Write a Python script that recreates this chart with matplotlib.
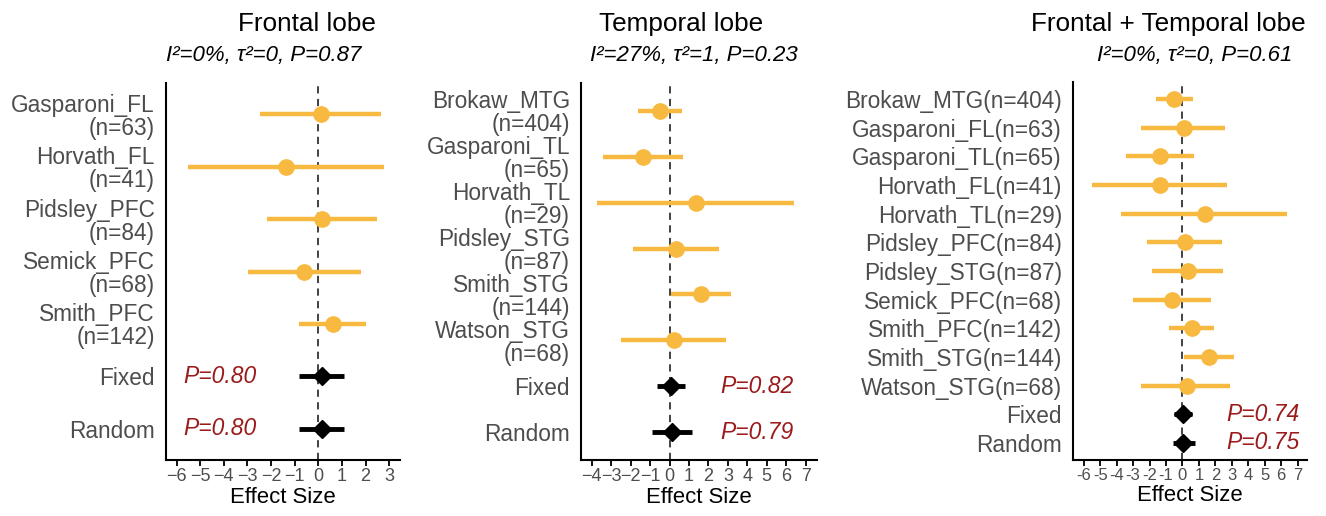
import numpy as np
import matplotlib
matplotlib.use("Agg")
import matplotlib.pyplot as plt

plt.rcParams["font.family"] = ["Liberation Sans", "DejaVu Sans"]

# Frontal lobe studies
fl_labels = ["Gasparoni_FL\n(n=63)", "Horvath_FL\n(n=41)", "Pidsley_PFC\n(n=84)",
             "Semick_PFC\n(n=68)", "Smith_PFC\n(n=142)"]
fl_est = [0.10, -1.37, 0.17, -0.59, 0.62]
fl_lo = [-2.48, -5.53, -2.17, -2.99, -0.82]
fl_hi = [2.67, 2.80, 2.49, 1.80, 2.01]
fl_pool_est = [0.14, 0.14]
fl_pool_lo = [-0.82, -0.82]
fl_pool_hi = [1.10, 1.10]
fl_pool_p = ["P=0.80", "P=0.80"]

# Temporal lobe studies
tl_labels = ["Brokaw_MTG\n(n=404)", "Gasparoni_TL\n(n=65)", "Horvath_TL\n(n=29)",
             "Pidsley_STG\n(n=87)", "Smith_STG\n(n=144)", "Watson_STG\n(n=68)"]
tl_est = [-0.48, -1.34, 1.34, 0.34, 1.61, 0.24]
tl_lo = [-1.60, -3.40, -3.71, -1.86, 0.08, -2.48]
tl_hi = [0.66, 0.70, 6.38, 2.52, 3.16, 2.91]
tl_pool_est = [0.07, 0.12]
tl_pool_lo = [-0.65, -0.88]
tl_pool_hi = [0.80, 1.15]
tl_pool_p = ["P=0.82", "P=0.79"]

# Both lobes combined
all_labels = ["Brokaw_MTG(n=404)", "Gasparoni_FL(n=63)", "Gasparoni_TL(n=65)",
              "Horvath_FL(n=41)", "Horvath_TL(n=29)", "Pidsley_PFC(n=84)",
              "Pidsley_STG(n=87)", "Semick_PFC(n=68)", "Smith_PFC(n=142)",
              "Smith_STG(n=144)", "Watson_STG(n=68)"]
all_est = [-0.52, 0.09, -1.37, -1.37, 1.35, 0.15, 0.34, -0.62, 0.60, 1.61, 0.26]
all_lo = [-1.61, -2.53, -3.40, -5.50, -3.73, -2.18, -1.84, -3.02, -0.82, 0.09, -2.49]
all_hi = [0.62, 2.61, 0.68, 2.73, 6.37, 2.43, 2.49, 1.72, 1.94, 3.14, 2.89]
all_pool_est = [0.05, 0.06]
all_pool_lo = [-0.50, -0.60]
all_pool_hi = [0.58, 0.74]
all_pool_p = ["P=0.74", "P=0.75"]

pool_labels = ["Fixed", "Random"]
titles = ["Frontal lobe", "Temporal lobe", "Frontal + Temporal lobe"]
subtitles = ["I²=0%, τ²=0, P=0.87", "I²=27%, τ²=1, P=0.23", "I²=0%, τ²=0, P=0.61"]
xticks = [np.arange(-6, 4), np.arange(-4, 8), np.arange(-6, 8)]
xlims = [(-6.45, 3.46), (-4.55, 7.58), (-6.65, 7.57)]
p_text_x = [-5.73, 2.6, 2.65]

panels = [
    (fl_labels, fl_est, fl_lo, fl_hi, fl_pool_est, fl_pool_lo, fl_pool_hi, fl_pool_p),
    (tl_labels, tl_est, tl_lo, tl_hi, tl_pool_est, tl_pool_lo, tl_pool_hi, tl_pool_p),
    (all_labels, all_est, all_lo, all_hi, all_pool_est, all_pool_lo, all_pool_hi, all_pool_p),
]

W, H = 1326, 516
fig = plt.figure(figsize=(W / 100, H / 100), dpi=100)

# axes boxes in pixels: left, right, top, bottom
boxes = [(166, 400, 83, 460), (581, 817, 83, 460), (1073, 1307, 82, 460)]
title_pos = [(307, 24), (681, 24), (1168, 24)]
sub_pos = [(264, 55), (694, 55), (1195, 55)]
# the combined panel has tight tick spacing, so its labels get a short dash
tick_size = [13, 13, 12]
minus_char = ["\u2212", "\u2212", "-"]

orange = "#F7B940"
grey_txt = "#4D4D4D"

for k, (labels, est, lo, hi, pest, plo, phi, pp) in enumerate(panels):
    l, r, t, b = boxes[k]
    ax = fig.add_axes([l / W, 1 - b / H, (r - l) / W, (b - t) / H])
    n = len(labels) + 2
    ys = np.arange(n)[::-1]
    ys_study = ys[:len(labels)]
    ys_pool = ys[len(labels):]

    ax.axvline(0, color="#333333", lw=1.3, ls=(0, (4, 3)), zorder=1)
    ax.hlines(ys_study, lo, hi, color=orange, lw=3.2, zorder=2)
    ax.plot(est, ys_study, "o", color=orange, ms=11, zorder=3)
    ax.hlines(ys_pool, plo, phi, color="black", lw=3.5, zorder=2)
    ax.plot(pest, ys_pool, "D", color="black", ms=9.5, zorder=3)

    for y, txt in zip(ys_pool, pp):
        ax.text(p_text_x[k], y, txt, color="#9B1B1B", fontsize=16.5,
                style="italic", va="center", ha="left")

    ax.set_yticks(ys)
    ax.set_yticklabels(labels + pool_labels, fontsize=16.3, color=grey_txt,
                       linespacing=1.0)
    ax.tick_params(axis="y", length=0, pad=8)
    ax.set_xticks(xticks[k])
    ax.set_xticklabels([str(v).replace("-", minus_char[k]) for v in xticks[k]])
    ax.tick_params(axis="x", length=4, width=1.3, labelsize=tick_size[k],
                   labelcolor=grey_txt, pad=2)
    ax.set_xlim(*xlims[k])
    ax.set_ylim(-0.6, n - 0.4)
    ax.set_xlabel("Effect Size", fontsize=15.9, labelpad=1)
    for s in ["top", "right"]:
        ax.spines[s].set_visible(False)
    for s in ["left", "bottom"]:
        ax.spines[s].set_linewidth(1.5)

    fig.text(title_pos[k][0] / W, 1 - title_pos[k][1] / H, titles[k],
             fontsize=18.8, ha="center", va="center")
    fig.text(sub_pos[k][0] / W, 1 - sub_pos[k][1] / H, subtitles[k],
             fontsize=16, style="italic", ha="center", va="center")

fig.savefig("out.png", dpi=100)
